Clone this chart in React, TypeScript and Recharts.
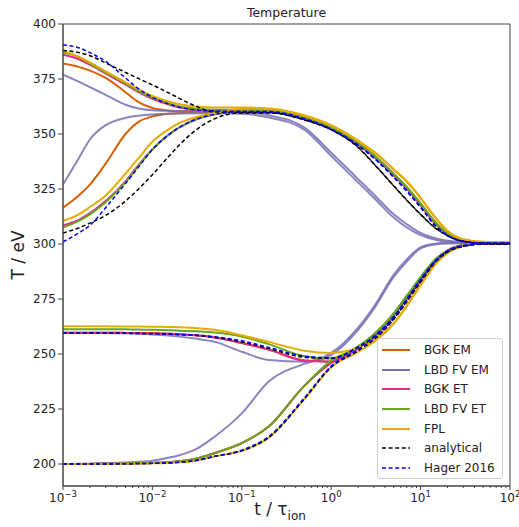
import React from "react";
import { LineChart, Line, XAxis, YAxis, ReferenceArea } from "recharts";

// time in units of tau_ion
const times = [
  0.001, 0.0015, 0.002, 0.003, 0.005, 0.007, 0.01, 0.015, 0.02, 0.03, 0.05, 0.1,
  0.2, 0.5, 1, 2, 3, 5, 7, 10, 15, 20, 30, 50, 100,
];

// BGK EM
const bgkEmHot = [382, 380.5, 378.8, 375.5, 369, 364.5, 361.8, 360.7, 360.4, 360.4, 360.4, 360.4, 360.3, 357.3, 352.5, 345.5, 340, 331.5, 325.5, 318, 309, 304.6, 301.5, 300.6, 300.5];
const bgkEmCold = [316.5, 322, 327, 336.5, 350, 355.5, 358, 359.2, 359.6, 359.8, 360, 360.2, 360.1, 357.1, 352.3, 345.3, 339.8, 331.3, 325.3, 317.8, 308.8, 304.4, 301.4, 300.5, 300.4];
const bgkEmWarm = [259.7, 259.7, 259.7, 259.7, 259.6, 259.5, 259.4, 259.2, 259, 258.5, 257.5, 255, 252, 247, 246.5, 253, 258.5, 268, 276, 284.5, 293, 297, 299.5, 300.3, 300.4];
const bgkEmCool = [200, 200, 200, 200.1, 200.2, 200.3, 200.5, 200.8, 201.2, 202.3, 205, 209.5, 217, 235.5, 246, 252.5, 258.2, 267.7, 275.7, 284.2, 292.8, 296.8, 299.4, 300.2, 300.3];

// LBD FV EM
const lbdEmHot = [377, 373.8, 371.3, 367.8, 363.3, 361.6, 360.8, 360.5, 360.4, 360.3, 360.3, 360.1, 358.5, 353, 341.5, 329.5, 322.5, 313.5, 309, 305, 302.5, 301.5, 301, 300.8, 300.8];
const lbdEmCold = [327, 339, 347.5, 354, 357.3, 358.3, 358.9, 359.2, 359.3, 359.4, 359.4, 359.2, 357.5, 352, 340, 328, 321, 312, 307.5, 304, 301.8, 301, 300.5, 300.3, 300.3];
const lbdEmWarm = [259.6, 259.6, 259.6, 259.5, 259.4, 259.2, 258.9, 258.4, 257.9, 257, 255.5, 251, 247.3, 246.5, 250.5, 262, 271.5, 286, 293, 298.5, 300.2, 300.6, 300.7, 300.7, 300.7];
const lbdEmCool = [200, 200.1, 200.2, 200.4, 200.7, 201, 201.5, 202.8, 204, 206.5, 212.5, 223, 237.5, 245.5, 249.5, 261, 270.5, 285, 292, 298, 299.9, 300.2, 300.3, 300.3, 300.3];

// BGK ET
const bgkEtHot = [386, 384, 381.5, 377.5, 372.5, 369, 366, 363.5, 362, 361, 360.5, 360.5, 360.3, 357.3, 352.5, 345.5, 340, 331.5, 325.5, 318, 309, 304.6, 301.5, 300.6, 300.5];
const bgkEtCold = [308.5, 311, 314, 319.5, 328.5, 336, 343, 349.5, 353, 356.5, 359, 360.3, 360.2, 357.1, 352.3, 345.3, 339.8, 331.3, 325.3, 317.8, 308.8, 304.4, 301.4, 300.5, 300.4];
const bgkEtWarm = [259.7, 259.7, 259.7, 259.7, 259.6, 259.5, 259.4, 259.2, 259, 258.5, 257.5, 255, 252, 247, 246.5, 253, 258.5, 268, 276, 284.5, 293, 297, 299.5, 300.3, 300.4];
const bgkEtCool = [200, 200, 200, 200.1, 200.2, 200.3, 200.5, 200.8, 201.2, 202.3, 205, 209.5, 217, 235.5, 246, 252.5, 258.2, 267.7, 275.7, 284.2, 292.8, 296.8, 299.4, 300.2, 300.3];

// LBD FV ET
const lbdEtHot = [387, 385, 382, 378, 373, 369.5, 366.5, 364, 362.5, 361.5, 361, 361, 360.8, 357.8, 353, 346, 340.5, 332, 326, 318.5, 309.5, 305, 301.7, 300.7, 300.6];
const lbdEtCold = [307.5, 310.5, 313.5, 319, 328, 335.5, 343, 349.5, 353, 356.5, 359, 360.7, 360.6, 357.6, 352.8, 345.8, 340.3, 331.8, 325.8, 318.3, 309.3, 304.8, 301.6, 300.6, 300.5];
const lbdEtWarm = [261.3, 261.3, 261.3, 261.3, 261.2, 261.1, 261, 260.8, 260.6, 260.3, 259.8, 258, 254.5, 249, 248, 253.5, 259, 268.5, 276.5, 285, 293.5, 297, 299.5, 300.4, 300.5];
const lbdEtCool = [200, 200, 200, 200.1, 200.2, 200.3, 200.5, 200.8, 201.2, 202.3, 205, 209.5, 217, 235.5, 247, 253, 258.7, 268.2, 276.2, 284.7, 293.2, 296.8, 299.4, 300.3, 300.4];

// FPL
const fplHot = [387.7, 385, 382.5, 378.5, 373.5, 370.3, 367.3, 364.8, 363.5, 362.5, 362, 362, 361.6, 358.5, 354, 347, 342, 334, 328.5, 321, 311.5, 306, 302.2, 301, 300.8];
const fplCold = [310.5, 313.5, 316.8, 322, 332, 339, 346.5, 352, 355, 357.5, 359.5, 361.5, 361.4, 358.3, 353.8, 346.8, 341.8, 333.8, 328.3, 320.8, 311.3, 305.8, 302.1, 300.9, 300.7];
const fplWarm = [262.6, 262.6, 262.6, 262.6, 262.5, 262.5, 262.4, 262.3, 262.2, 261.8, 261, 258.5, 255.5, 251.5, 250.5, 253, 256.5, 264, 272, 281.5, 291.5, 296, 299.3, 300.6, 300.8];
const fplCool = [200, 200, 200, 200, 200.1, 200.2, 200.3, 200.5, 200.8, 201.5, 203.5, 206, 212, 229.5, 244, 251, 255.5, 263.7, 271.7, 281.2, 291.2, 295.8, 299.2, 300.5, 300.7];

// analytical
const anaHot = [388, 387, 385.6, 382.3, 378, 375.2, 372.3, 368.8, 366.2, 362.8, 360, 359.8, 359.7, 356.5, 352, 344, 336.5, 326.5, 320, 313.5, 307, 303.8, 301.3, 300.4, 300.2];
const anaCold = [305, 307.3, 309.5, 313, 319.5, 325, 331.5, 339.5, 345, 351.5, 357, 359.6, 359.6, 356.4, 351.9, 343.9, 336.4, 326.4, 319.9, 313.4, 306.9, 303.7, 301.2, 300.3, 300.1];
const anaWarm = [259.6, 259.6, 259.6, 259.6, 259.5, 259.4, 259.3, 259.1, 258.9, 258.5, 257.5, 255.5, 252.5, 248.5, 248, 253, 257.5, 266, 274, 283, 292.5, 296.5, 299, 300, 300];
const anaCool = [200, 200, 200, 200, 200.1, 200.2, 200.3, 200.5, 200.8, 201.5, 203.5, 206, 212, 229.5, 244, 251.5, 256.5, 265.7, 273.7, 282.7, 292.2, 296.3, 298.9, 299.9, 300];

// Hager 2016
const hagerHot = [390.5, 389.2, 387, 383, 375.5, 370.5, 366.7, 363.7, 362.2, 361, 360.5, 360.3, 360.2, 357, 352.2, 345, 339.2, 330.5, 324.2, 316.8, 308, 304, 301.3, 300.5, 300.4];
const hagerCold = [301, 305, 308.5, 316.5, 327.5, 335, 343, 349.5, 353, 356.5, 359, 360.1, 360, 356.8, 352, 344.8, 339, 330.3, 324, 316.6, 307.8, 303.8, 301.2, 300.4, 300.3];
const hagerWarm = [259.5, 259.5, 259.5, 259.5, 259.4, 259.3, 259.2, 259, 258.8, 258.6, 257.8, 256, 253, 249, 248.3, 253.2, 258, 267, 275, 284, 293, 297, 299.3, 300.2, 300.3];
const hagerCool = [200, 200, 200, 200, 200.1, 200.2, 200.3, 200.5, 200.8, 201.5, 203.5, 206.3, 212.5, 230, 244.5, 252, 257, 266.7, 274.7, 283.7, 292.7, 296.8, 299.2, 300.1, 300.2];

const yTicks = [200, 225, 250, 275, 300, 325, 350, 375, 400];
const xMajor = [0.001, 0.01, 0.1, 1, 10, 100];
const xMinor = xMajor.slice(0, -1).flatMap((d) => [2, 3, 4, 5, 6, 7, 8, 9].map((m) => m * d));

const models = [
  { name: "BGK EM", color: "#d95f02", dash: false, series: [bgkEmHot, bgkEmCold, bgkEmWarm, bgkEmCool] },
  { name: "LBD FV EM", color: "#7570b3", dash: false, series: [lbdEmHot, lbdEmCold, lbdEmWarm, lbdEmCool] },
  { name: "BGK ET", color: "#e7298a", dash: false, series: [bgkEtHot, bgkEtCold, bgkEtWarm, bgkEtCool] },
  { name: "LBD FV ET", color: "#66a61e", dash: false, series: [lbdEtHot, lbdEtCold, lbdEtWarm, lbdEtCool] },
  { name: "FPL", color: "#e6ab02", dash: false, series: [fplHot, fplCold, fplWarm, fplCool] },
  { name: "analytical", color: "#000000", dash: true, series: [anaHot, anaCold, anaWarm, anaCool] },
  { name: "Hager 2016", color: "#0000ff", dash: true, series: [hagerHot, hagerCold, hagerWarm, hagerCool] },
];

const data = times.map((t, i) => {
  const row: Record<string, number> = { t };
  models.forEach((m, mi) => m.series.forEach((s, si) => (row[`m${mi}s${si}`] = s[i])));
  return row;
});

const FONT = "DejaVu Sans, sans-serif";
const INK = "#222";
const AXIS = "#444";

const minusExp = (v: number) => {
  const e = Math.round(Math.log10(v));
  return e < 0 ? `\u2212${-e}` : `${e}`;
};

// custom x tick: draws its own tick line (long for decades, short for minors)
const LogTick = (props: any) => {
  const { x, y, payload } = props;
  const v = payload.value;
  const isMajor = xMajor.some((m) => Math.abs(m - v) / m < 1e-6);
  const y0 = y - 6;
  return (
    <g>
      <line x1={x} x2={x} y1={y0} y2={y0 + (isMajor ? 4 : 2)} stroke={AXIS} strokeWidth={1} />
      {isMajor && (
        <text x={x} y={y0 + 16} textAnchor="middle" fontSize={12} fontFamily={FONT} fill={INK}>
          10
          <tspan dy={-5} fontSize={8.5}>{minusExp(v)}</tspan>
        </text>
      )}
    </g>
  );
};

function LegendBox() {
  return (
    <div
      style={{
        position: "absolute",
        left: 377,
        top: 338,
        width: 126,
        height: 141,
        boxSizing: "border-box",
        border: "1px solid #d0d0d0",
        borderRadius: 3,
        background: "rgba(255,255,255,0.85)",
        paddingTop: 1.5,
        fontFamily: FONT,
        fontSize: 12,
        color: INK,
      }}
    >
      {models.map((m) => (
        <div key={m.name} style={{ height: 19.6, display: "flex", alignItems: "center" }}>
          <svg width={42} height={8} style={{ marginLeft: 4, flex: "none" }}>
            <line
              x1={0}
              x2={28}
              y1={4}
              y2={4}
              stroke={m.color}
              strokeWidth={m.dash ? 1.5 : 2}
              strokeDasharray={m.dash ? "4 2.6" : undefined}
            />
          </svg>
          <span style={{ whiteSpace: "nowrap" }}>{m.name}</span>
        </div>
      ))}
    </div>
  );
}

export default function App() {
  return (
    <div style={{ position: "absolute", left: 0, top: 0, width: 519, height: 527, background: "#fff" }}>
      <LineChart width={519} height={527} data={data} margin={{ top: 24, right: 9, bottom: 0, left: 0 }}>
        <XAxis
          dataKey="t"
          type="number"
          scale="log"
          domain={[0.001, 100]}
          allowDataOverflow
          ticks={[...xMajor, ...xMinor]}
          interval={0}
          tickLine={false}
          tickSize={4}
          tickMargin={2}
          tick={<LogTick />}
          stroke={AXIS}
          height={41}
        />
        <YAxis
          type="number"
          domain={[190, 400]}
          allowDataOverflow
          ticks={yTicks}
          interval={0}
          tickSize={5}
          tickMargin={2}
          stroke={AXIS}
          width={63}
          tick={{ fill: INK, fontSize: 12, fontFamily: FONT }}
        />
        <ReferenceArea x1={0.001} x2={100} y1={190} y2={400} fill="none" stroke={AXIS} strokeWidth={1} ifOverflow="visible" />
        {models.flatMap((m, mi) =>
          m.series.map((_, si) => (
            <Line
              key={`m${mi}s${si}`}
              dataKey={`m${mi}s${si}`}
              type="monotone"
              stroke={m.color}
              strokeWidth={m.dash ? 1.5 : 2}
              strokeDasharray={m.dash ? "4 2.6" : undefined}
              strokeOpacity={mi === 1 ? 0.85 : 1}
              dot={false}
              activeDot={false}
              isAnimationActive={false}
            />
          ))
        )}
      </LineChart>
      <svg width={519} height={527} style={{ position: "absolute", left: 0, top: 0, pointerEvents: "none" }}>
        <text x={286.5} y={17} textAnchor="middle" fontSize={12.5} fontFamily={FONT} fill={INK}>
          Temperature
        </text>
        <text x={280} y={515} textAnchor="middle" fontSize={17} fontFamily={FONT} fill={INK}>
          t / τ<tspan fontSize={12} dy={5}>ion</tspan>
        </text>
        <text transform="translate(24,255) rotate(-90)" textAnchor="middle" fontSize={17} fontFamily={FONT} fill={INK}>
          T / eV
        </text>
      </svg>
      <LegendBox />
    </div>
  );
}
